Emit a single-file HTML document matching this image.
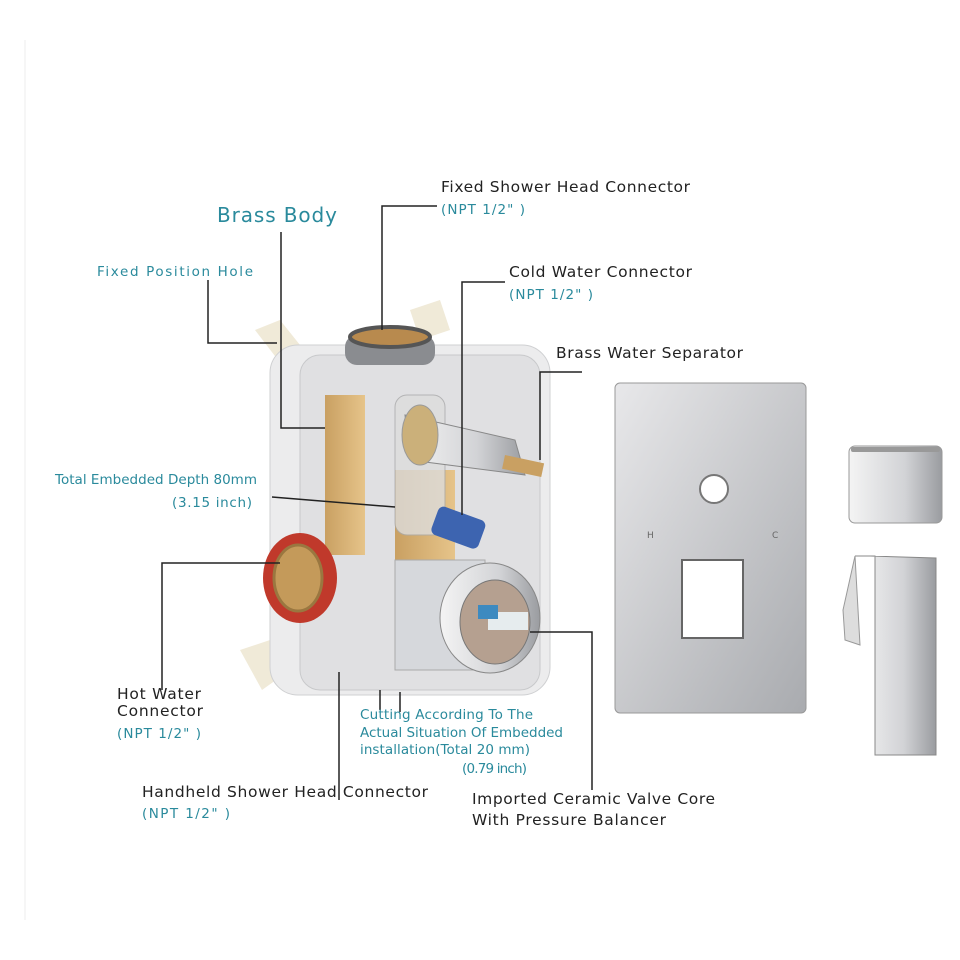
<!DOCTYPE html>
<html><head><style>
body{margin:0;background:#fff;}
svg{display:block}
text{font-family:"DejaVu Sans","Liberation Sans",sans-serif;}
.d{fill:#222;font-size:15.5px}
.t{fill:#2a8a9c;font-size:13.5px}
</style></head><body>
<svg width="960" height="960" viewBox="0 0 960 960">
<defs>
<linearGradient id="pl" x1="0" y1="0" x2="1" y2="1"><stop offset="0" stop-color="#e8e8ea"/><stop offset=".5" stop-color="#c8c9cc"/><stop offset="1" stop-color="#a9abaf"/></linearGradient>
<linearGradient id="ch" x1="0" y1="0" x2="1" y2="0"><stop offset="0" stop-color="#f4f4f4"/><stop offset=".6" stop-color="#d2d3d6"/><stop offset="1" stop-color="#9a9ca0"/></linearGradient>
<linearGradient id="br" x1="0" y1="0" x2="1" y2="0"><stop offset="0" stop-color="#c9a062"/><stop offset="1" stop-color="#e6c48a"/></linearGradient>
</defs>
<rect width="960" height="960" fill="#fff"/>
<line x1="25" y1="40" x2="25" y2="920" stroke="#eee" stroke-width="1"/>
<path d="M255 330 L280 320 L300 345 L278 360 Z" fill="#f0ead8"/>
<path d="M410 310 L440 300 L450 330 L420 340 Z" fill="#f0ead8"/>
<path d="M240 650 L270 640 L290 670 L262 690 Z" fill="#f0ead8"/>
<rect x="270" y="345" width="280" height="350" rx="28" fill="#ececed" stroke="#cfd0d2"/>
<rect x="300" y="355" width="240" height="335" rx="20" fill="#e0e0e2" stroke="#c8c9cb"/>
<rect x="325" y="395" width="40" height="160" fill="url(#br)"/>
<rect x="395" y="470" width="60" height="100" fill="url(#br)"/>
<rect x="345" y="335" width="90" height="30" rx="12" fill="#8a8c90"/>
<ellipse cx="390" cy="337" rx="40" ry="10" fill="#b88a4e" stroke="#555" stroke-width="4"/>
<rect x="395" y="395" width="50" height="140" rx="12" fill="#ddd" stroke="#aaa" opacity=".8"/>
<path d="M405 415 L515 440 L525 475 L410 460 Z" fill="url(#ch)" stroke="#888"/>
<rect x="505" y="455" width="40" height="14" fill="#c9a062" transform="rotate(12 505 455)"/>
<ellipse cx="420" cy="435" rx="18" ry="30" fill="#cbb07a" stroke="#999"/>
<rect x="440" y="505" width="50" height="30" rx="6" fill="#3d64b0" transform="rotate(20 440 505)"/>
<ellipse cx="300" cy="578" rx="37" ry="45" fill="#c0392b"/>
<ellipse cx="298" cy="578" rx="24" ry="33" fill="#c49a5a" stroke="#9a7740" stroke-width="3"/>
<rect x="395" y="560" width="90" height="110" fill="#d6d8dc" stroke="#aaa"/>
<ellipse cx="490" cy="618" rx="50" ry="55" fill="url(#ch)" stroke="#888"/>
<ellipse cx="495" cy="622" rx="35" ry="42" fill="#b5a090" stroke="#777"/>
<rect x="488" y="612" width="40" height="18" fill="#e6ecee"/>
<rect x="478" y="605" width="20" height="14" fill="#3d8ac0"/>
<rect x="615" y="383" width="191" height="330" rx="5" fill="url(#pl)" stroke="#999"/>
<circle cx="714" cy="489" r="14" fill="#fff" stroke="#777" stroke-width="2"/>
<rect x="682" y="560" width="61" height="78" fill="#fff" stroke="#666" stroke-width="2"/>
<text x="647" y="538" font-size="9" fill="#666">H</text>
<text x="772" y="538" font-size="9" fill="#666">C</text>
<rect x="849" y="446" width="93" height="77" rx="6" fill="url(#ch)" stroke="#999"/>
<rect x="851" y="447" width="89" height="5" fill="#999" rx="2"/>
<path d="M855 556 L875 556 L875 755 L936 755 L936 558 L870 556 Z" fill="url(#ch)" stroke="#888"/>
<path d="M855 556 L843 610 L845 640 L860 645 Z" fill="#ddd" stroke="#999"/>
<g stroke="#222" stroke-width="1.5" fill="none">
<path d="M437 206 H382 V330"/>
<path d="M281 232 V428 H325"/>
<path d="M208 280 V343 H277"/>
<path d="M505 282 H462 V515"/>
<path d="M582 372 H540 V460"/>
<path d="M272 497 L395 507"/>
<path d="M162 690 V563 H280"/>
<path d="M339 672 V800"/>
<path d="M530 632 H592 V790"/>
<path d="M380 690 V710 M400 692 V712"/>
</g>
<text x="441" y="192" class="d" textLength="249">Fixed Shower Head Connector</text>
<text x="441" y="214" class="t" textLength="84">(NPT 1/2" )</text>
<text x="217" y="222" fill="#2a8a9c" font-size="20" textLength="120">Brass Body</text>
<text x="97" y="276" class="t" textLength="156">Fixed Position Hole</text>
<text x="509" y="277" class="d" textLength="183">Cold Water Connector</text>
<text x="509" y="299" class="t" textLength="84">(NPT 1/2" )</text>
<text x="556" y="358" class="d" textLength="187">Brass Water Separator</text>
<text x="55" y="484" class="t" font-size="12.5" textLength="202">Total Embedded Depth 80mm</text>
<text x="172" y="507" class="t" font-size="14.5" textLength="80">(3.15 inch)</text>
<text x="117" y="699" class="d" textLength="84">Hot Water</text>
<text x="117" y="716" class="d" textLength="86">Connector</text>
<text x="117" y="738" class="t" textLength="84">(NPT 1/2" )</text>
<text x="360" y="719" class="t" font-size="12.5" textLength="173">Cutting According To The</text>
<text x="360" y="737" class="t" font-size="12.5" textLength="203">Actual Situation Of Embedded</text>
<text x="360" y="754" class="t" font-size="12.5" textLength="170">installation(Total 20 mm)</text>
<text x="462" y="773" class="t" font-size="12" textLength="65">(0.79 inch)</text>
<text x="142" y="797" class="d" textLength="286">Handheld Shower Head Connector</text>
<text x="142" y="818" class="t" textLength="88">(NPT 1/2" )</text>
<text x="472" y="804" class="d" textLength="243">Imported Ceramic Valve Core</text>
<text x="472" y="825" class="d" textLength="194">With Pressure Balancer</text>
</svg>
</body></html>
